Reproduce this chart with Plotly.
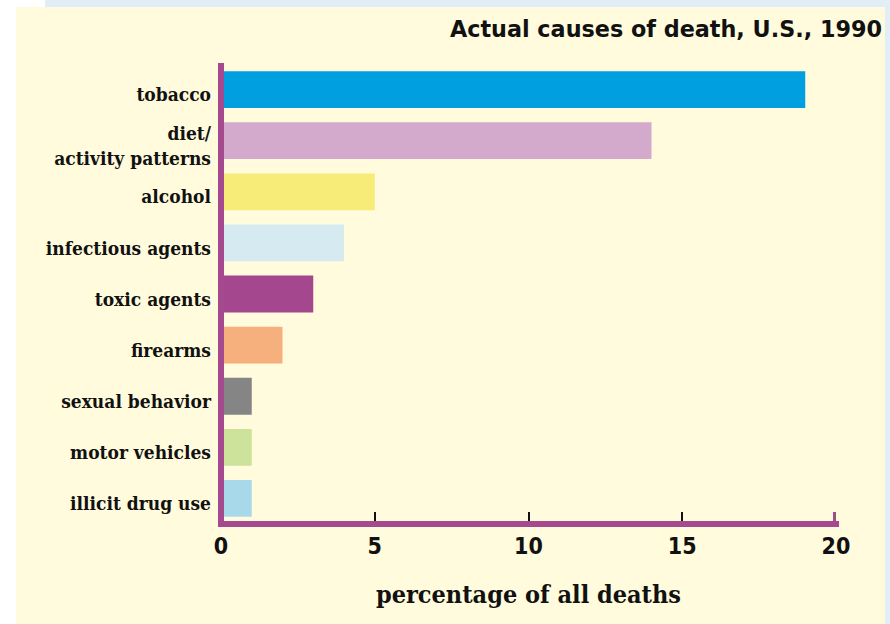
import plotly.graph_objects as go

# ---- data ----
categories = ["tobacco", "diet/<br>activity patterns", "alcohol", "infectious agents",
              "toxic agents", "firearms", "sexual behavior", "motor vehicles", "illicit drug use"]
percent = [19, 14, 5, 4, 3, 2, 1, 1, 1]
bar_colors = ["#009FE0", "#D4AACC", "#F8EC78", "#D5EBF1", "#A5478F",
              "#F5B07D", "#858585", "#CDE39C", "#A8D9EA"]
x_ticks = [0, 5, 10, 15, 20]
title_text = "Actual causes of death, U.S., 1990"
x_title = "percentage of all deaths"

PURPLE = "#A64A8F"
YELLOW = "#FFFBDC"
BLUE_STRIP = "#E1EEF6"

W, H = 890, 624
L, R, T, B = 221, 54, 63, 100
pw, ph = W - L - R, H - T - B


def px_x(p):
    return (p - L) / pw


def px_y(p):
    return (H - B - p) / ph


SERIF = "DejaVu Serif Condensed, DejaVu Serif, serif"
SANS = "DejaVu Sans, sans-serif"
SANS_C = "DejaVu Sans Condensed, DejaVu Sans, sans-serif"

fig = go.Figure()
fig.add_trace(go.Bar(
    x=percent, y=categories, orientation="h",
    marker=dict(color=bar_colors, line=dict(width=0)),
    width=0.72, hoverinfo="skip",
))

shapes = [
    # background panels
    dict(type="rect", xref="paper", yref="paper", x0=px_x(16), x1=px_x(885),
         y0=px_y(H + 5), y1=px_y(7), fillcolor=YELLOW, line=dict(width=0), layer="below"),
    dict(type="rect", xref="paper", yref="paper", x0=px_x(45), x1=px_x(W + 5),
         y0=px_y(7), y1=px_y(-5), fillcolor=BLUE_STRIP, line=dict(width=0), layer="below"),
    dict(type="rect", xref="paper", yref="paper", x0=px_x(885), x1=px_x(W + 5),
         y0=px_y(H + 5), y1=px_y(-5), fillcolor=BLUE_STRIP, line=dict(width=0), layer="below"),
    # axes
    dict(type="line", xref="paper", yref="paper", x0=px_x(221), x1=px_x(221),
         y0=px_y(527), y1=px_y(63), line=dict(color=PURPLE, width=6), layer="above"),
    dict(type="line", xref="paper", yref="paper", x0=px_x(218), x1=px_x(839),
         y0=px_y(524), y1=px_y(524), line=dict(color=PURPLE, width=6), layer="above"),
    dict(type="line", xref="x", yref="paper", x0=x_ticks[-1], x1=x_ticks[-1],
         y0=px_y(527), y1=px_y(512), line=dict(color=PURPLE, width=6), layer="above"),
]

fig.update_layout(
    width=W, height=H,
    margin=dict(l=L, r=R, t=T, b=B, pad=0),
    paper_bgcolor="white", plot_bgcolor=YELLOW,
    showlegend=False,
    shapes=shapes,
    title=dict(text=title_text, xref="container", yref="container",
               x=882 / W, xanchor="right", y=1 - 29 / H, yanchor="middle",
               font=dict(family=SANS, size=22.3, color="#111111", weight="bold")),
    xaxis=dict(range=[0, 20], tickvals=x_ticks, ticktext=[str(v) for v in x_ticks],
               showgrid=False, zeroline=False, showline=False,
               ticks="inside", ticklen=12, tickwidth=1.5, tickcolor="#111111",
               tickfont=dict(family=SANS_C, size=23, color="#111111", weight="bold"),
               ticklabelstandoff=6,
               title=dict(text=x_title, standoff=27,
                          font=dict(family=SERIF, size=25, color="#111111", weight="bold"))),
    yaxis=dict(categoryorder="array", categoryarray=list(reversed(categories)),
               range=[-0.5, 8.52], showgrid=False, zeroline=False, showline=False,
               ticks="", ticklabelstandoff=9, ticklabelshift=5,
               tickfont=dict(family=SERIF, size=19, color="#111111", weight="bold")),
    bargap=0.28,
)

fig.write_html("out.html")
